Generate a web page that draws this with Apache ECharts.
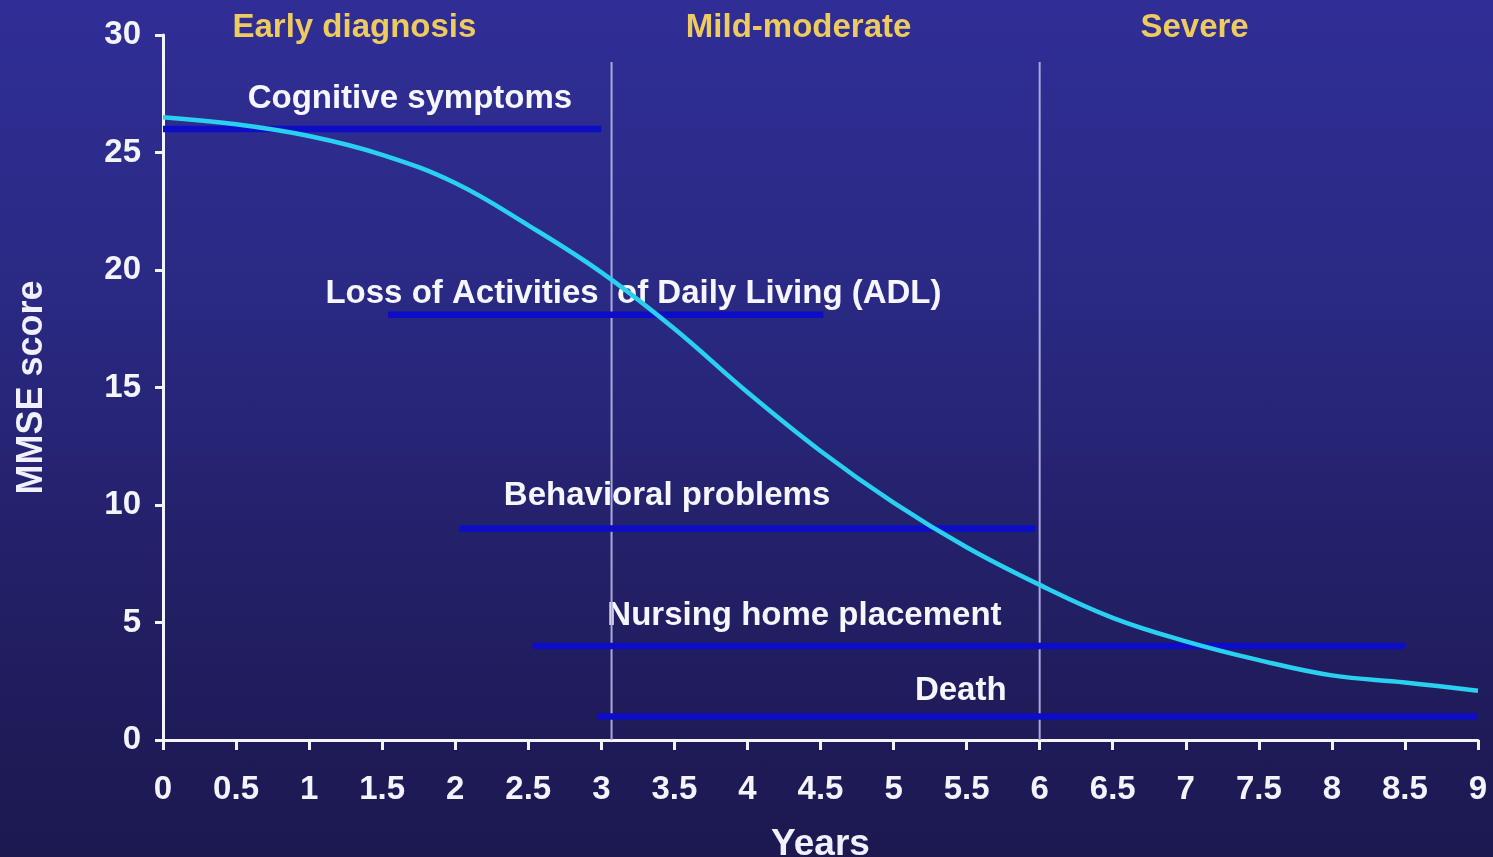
<!DOCTYPE html>
<html><head><meta charset="utf-8">
<script src="https://cdn.jsdelivr.net/npm/echarts@6/dist/echarts.min.js"></script>
<style>
html,body{margin:0;padding:0;width:1493px;height:857px;overflow:hidden;
background:linear-gradient(180deg,#302e96 0%,#2a2983 35%,#221f64 70%,#1c1850 100%);}
#c{width:1493px;height:857px;}
</style></head><body><div id="c"></div>
<script>
// MMSE decline curve (years, score)
const years = [0,0.5,1,1.5,2,2.5,3,3.5,4,4.5,5,5.5,6,6.5,7,7.5,8,8.5,9];
const mmse  = [26.5,26.2,25.7,24.9,23.7,21.9,19.9,17.5,14.8,12.3,10.1,8.2,6.6,5.2,4.2,3.4,2.75,2.45,2.1];

// Event bars: name, start year, end year, score level
const eventNames  = ['Cognitive symptoms','Loss of Activities  of Daily Living (ADL)','Behavioral problems','Nursing home placement','Death'];
const eventStart  = [0, 1.54, 2.03, 2.53, 2.97];
const eventEnd    = [3.0, 4.52, 5.97, 8.5, 9];
const eventLevel  = [26.0, 18.1, 9.0, 4.0, 1.0];
// label anchor (centre) for each event, in data units
const eventLabelX = [1.69, 3.22, 3.45, 4.39, 5.46];
const eventLabelY = [27.28, 18.98, 10.38, 5.28, 2.09];

// Stage boundaries and stage titles
const stageBounds = [3.07, 6.0];
const stageTop    = 28.85;
const stageNames  = ['Early diagnosis','Mild-moderate','Severe'];
const stageLabelX = [1.31, 4.35, 7.06];
const stageLabelY = 30.3;

const FONT = '"Liberation Sans", Arial, sans-serif';
const chart = echarts.init(document.getElementById('c'));

const labelBase = {show:true, position:'inside', formatter:p=>p.name, opacity:1,
  fontFamily:FONT, fontWeight:'bold', fontSize:33, textBorderWidth:0, textShadowBlur:0};

const series = [];
// event labels (lowest)
series.push({
  type:'scatter', z:1, clip:false, symbolSize:0, silent:true,
  itemStyle:{opacity:1},
  data: eventNames.map((n,i)=>({value:[eventLabelX[i],eventLabelY[i]], name:n})),
  label:Object.assign({}, labelBase, {color:'#f6f6ff'})
});
// stage titles
series.push({
  type:'scatter', z:1, clip:false, symbolSize:0, silent:true,
  itemStyle:{opacity:1},
  data: stageNames.map((n,i)=>({value:[stageLabelX[i],stageLabelY], name:n})),
  label:Object.assign({}, labelBase, {color:'#eecb5e'})
});
// stage boundary lines
stageBounds.forEach(b=>series.push({
  type:'line', z:2, symbol:'none', silent:true,
  data:[[b,0],[b,stageTop]],
  lineStyle:{color:'#a9a9dc', width:2}
}));
// event bars
eventNames.forEach((n,i)=>series.push({
  type:'line', z:3, symbol:'none', silent:true,
  data:[[eventStart[i],eventLevel[i]],[eventEnd[i],eventLevel[i]]],
  lineStyle:{color:'#0d0dc8', width:6.5}
}));
// MMSE curve
series.push({
  type:'line', z:5, symbol:'none', smooth:0.4, silent:true,
  data: years.map((y,i)=>[y,mmse[i]]),
  lineStyle:{color:'#2ad0f0', width:4.5}
});

chart.setOption({
  backgroundColor:'transparent',
  animation:false,
  grid:{left:163, right:15, top:35, bottom:117, containLabel:false, outerBoundsMode:'none'},
  xAxis:{
    type:'value', min:0, max:9, interval:0.5,
    name:'Years', nameLocation:'middle', nameGap:86,
    nameTextStyle:{color:'#f0f0ff', fontFamily:FONT, fontWeight:'bold', fontSize:37},
    axisLine:{show:true, onZero:false, lineStyle:{color:'#f4f4ff', width:3}},
    axisTick:{show:true, length:10, lineStyle:{color:'#f4f4ff', width:3}},
    axisLabel:{color:'#f4f4ff', fontFamily:FONT, fontWeight:'bold', fontSize:33, margin:33,
      formatter:v=>String(v)},
    splitLine:{show:false}
  },
  yAxis:{
    type:'value', min:0, max:30, interval:5,
    name:'MMSE score', nameLocation:'middle', nameGap:113, nameRotate:90,
    nameTextStyle:{color:'#f0f0ff', fontFamily:FONT, fontWeight:'bold', fontSize:36},
    axisLine:{show:true, onZero:false, lineStyle:{color:'#f4f4ff', width:3}},
    axisTick:{show:true, length:8, lineStyle:{color:'#f4f4ff', width:3}},
    axisLabel:{color:'#f4f4ff', fontFamily:FONT, fontWeight:'bold', fontSize:33, margin:22},
    splitLine:{show:false}
  },
  series: series
});
</script></body></html>
